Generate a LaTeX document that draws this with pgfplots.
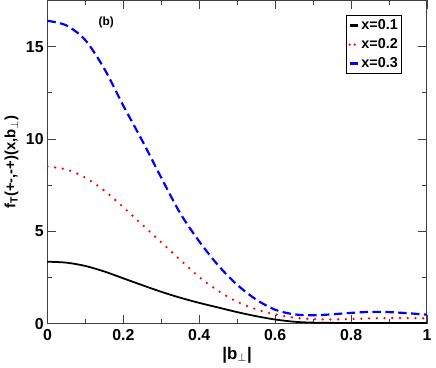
\documentclass[border=0pt]{standalone}
\usepackage{pgfplots}
\pgfplotsset{compat=1.18}
\usepackage{fontspec}
\setmainfont{Liberation Sans}

\begin{document}
\fontsize{14}{16}\selectfont\bfseries
\begin{tikzpicture}
\begin{axis}[
    scale only axis,
    width=383pt, height=326pt,
    xmin=0, xmax=1, ymin=0, ymax=17.5,
    xtick={0,0.2,0.4,0.6,0.8,1},
    xticklabels={0,0.2,0.4,0.6,0.8,1},
    ytick={0,5,10,15},
    minor x tick num=1, minor y tick num=1,
    tick align=inside,
    major tick length=9pt, minor tick length=5pt,
    axis line style={line width=1pt, black!75},
    every tick/.style={black!75, line width=0.8pt},
    tick label style={font=\fontsize{16}{18}\selectfont\bfseries},
    /pgf/number format/assume math mode=true,
    xticklabel style={yshift=-1pt},
    yticklabel style={xshift=1pt},
    xlabel={|b\textsubscript{$\perp$}|},
    ylabel={f\textsubscript{T}(+-,-+)(x,b\textsubscript{$\perp$})},
    xlabel style={font=\fontsize{17}{19}\selectfont\bfseries, yshift=3pt},
    ylabel style={font=\fontsize{15}{17}\selectfont\bfseries, yshift=-2pt},
    legend style={at={(0.935,0.955)}, anchor=north east, draw=black,
        font=\fontsize{14.5}{16}\selectfont\bfseries,
        inner sep=2pt, row sep=3pt},
    every axis legend/.append style={line width=1pt},
    legend cell align=left,
    legend image post style={xscale=0.5},
]
\addlegendimage{black, solid, line width=2.4pt}
\addlegendentry{x=0.1}
\addlegendimage{red, line width=2.6pt, line cap=round, dash pattern=on 0pt off 5pt}
\addlegendentry{x=0.2}
\addlegendimage{blue, solid, line width=2.4pt}
\addlegendentry{x=0.3}
\addplot[black, line width=1.8pt, smooth, forget plot] coordinates {
(0,3.35) (0.05,3.3) (0.1,3.12) (0.15,2.82) (0.2,2.45) (0.25,2.08)
(0.3,1.72) (0.35,1.4) (0.4,1.12) (0.45,0.87) (0.5,0.62) (0.55,0.4)
(0.6,0.22) (0.65,0.1) (0.7,0.05) (0.8,0.03) (0.9,0.03) (1,0.03)};
\addplot[red, line width=2.6pt, line cap=round, dash pattern=on 0pt off 7.8pt, smooth, forget plot] coordinates {
(0,8.5) (0.05,8.35) (0.1,7.9) (0.15,7.2) (0.2,6.3) (0.25,5.35)
(0.3,4.4) (0.35,3.45) (0.4,2.52) (0.45,1.77) (0.5,1.18) (0.55,0.77)
(0.6,0.5) (0.65,0.32) (0.7,0.24) (0.75,0.22) (0.8,0.24) (0.85,0.28)
(0.9,0.3) (0.95,0.3) (1,0.28)};
\addplot[blue, line width=2.2pt, dash pattern=on 8.5pt off 4.5pt, smooth, forget plot] coordinates {
(0,16.4) (0.05,16.15) (0.1,15.35) (0.15,13.8) (0.2,11.8) (0.25,9.9)
(0.3,7.9) (0.35,5.97) (0.4,4.45) (0.45,3.15) (0.5,2.1) (0.55,1.3)
(0.6,0.75) (0.65,0.5) (0.7,0.45) (0.75,0.5) (0.8,0.58) (0.85,0.63)
(0.9,0.62) (0.95,0.56) (1,0.48)};
\node[font=\fontsize{12}{14}\selectfont\bfseries] at (axis cs:0.155,16.3) {(b)};
\end{axis}
\end{tikzpicture}
\end{document}
